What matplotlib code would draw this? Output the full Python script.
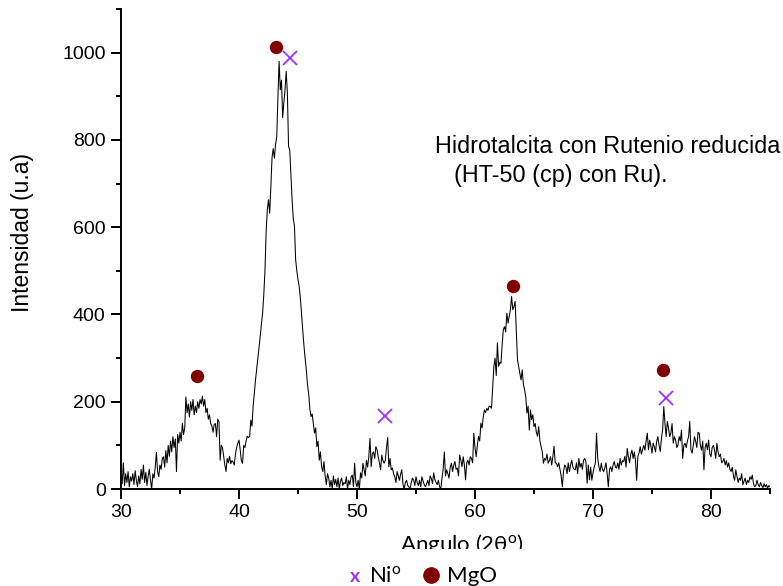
import numpy as np
import matplotlib
matplotlib.use("Agg")
import matplotlib.pyplot as plt
from matplotlib.ticker import MultipleLocator
from matplotlib.patches import Rectangle

plt.rcParams["mathtext.fontset"] = "custom"
plt.rcParams["mathtext.rm"] = "Lato"
plt.rcParams["mathtext.it"] = "Lato:italic"
plt.rcParams["mathtext.bf"] = "Lato:bold"

# XRD pattern, 2-theta from 30 to 85 deg in 0.1 deg steps
two_theta_start = 30.0
two_theta_stop = 85.0
intensity = [
    30, 12, 60, 8, 35, 15, 40, 5, 28, 18,
    35, 10, 42, 20, 5, 30, 12, 45, 22, 55,
    15, 38, 8, 30, 45, 20, 0, 35, 25, 50,
    84, 40, 28, 55, 45, 70, 74, 50, 88, 60,
    100, 75, 110, 85, 120, 95, 115, 40, 125, 105,
    130, 110, 150, 125, 140, 211, 175, 195, 165, 200,
    180, 205, 170, 190, 175, 200, 185, 205, 195, 213,
    190, 205, 175, 185, 160, 170, 150, 145, 130, 148,
    150, 120, 160, 155, 66, 100, 95, 75, 55, 40,
    70, 60, 75, 58, 65, 62, 55, 80, 95, 105,
    112, 90, 65, 59, 100, 95, 110, 121, 118, 120,
    158, 144, 190, 220, 250, 275, 300, 326, 350, 378,
    403, 445, 500, 590, 640, 663, 632, 693, 760, 780,
    758, 790, 808, 900, 980, 915, 937, 851, 885, 915,
    957, 907, 785, 777, 720, 663, 620, 602, 525, 500,
    480, 464, 438, 400, 365, 330, 300, 275, 240, 220,
    185, 166, 172, 150, 128, 140, 97, 110, 66, 85,
    51, 40, 63, 30, 10, 35, 25, 5, 20, 0,
    30, 10, 22, 5, 25, 0, 18, 25, 8, 15,
    12, 28, 0, 20, 10, 28, 32, 5, 59, 15,
    5, 20, 0, 37, 25, 59, 45, 30, 66, 50,
    74, 116, 51, 81, 85, 70, 97, 90, 74, 60,
    44, 78, 65, 59, 66, 95, 118, 51, 70, 44,
    48, 35, 28, 15, 40, 30, 20, 35, 44, 10,
    0, 15, 20, 8, 5, 0, 15, 25, 20, 8,
    28, 15, 8, 20, 5, 28, 18, 10, 5, 12,
    20, 8, 30, 24, 12, 37, 22, 15, 10, 20,
    5, 0, 25, 45, 85, 30, 44, 35, 25, 50,
    59, 40, 55, 63, 45, 48, 30, 78, 66, 51,
    74, 55, 21, 60, 66, 55, 74, 70, 60, 128,
    95, 74, 100, 121, 110, 151, 140, 165, 181, 175,
    185, 180, 190, 189, 185, 235, 281, 300, 260, 335,
    281, 290, 288, 330, 365, 372, 360, 403, 380, 396,
    410, 441, 411, 418, 430, 365, 296, 281, 265, 250,
    273, 240, 227, 212, 174, 190, 135, 181, 159, 170,
    143, 150, 130, 121, 143, 110, 98, 85, 59, 70,
    66, 80, 59, 65, 74, 55, 74, 98, 60, 59,
    51, 60, 45, 30, 5, 40, 55, 51, 35, 60,
    40, 55, 66, 50, 45, 44, 60, 35, 70, 50,
    59, 45, 66, 70, 63, 13, 55, 21, 50, 20,
    37, 50, 60, 128, 70, 51, 40, 59, 45, 40,
    48, 60, 35, 5, 45, 51, 40, 55, 63, 50,
    48, 60, 45, 70, 55, 65, 63, 75, 50, 93,
    74, 60, 80, 89, 70, 85, 65, 20, 75, 82,
    97, 80, 90, 100, 89, 110, 128, 90, 112, 100,
    82, 105, 97, 85, 110, 120, 100, 86, 115, 136,
    189, 150, 120, 155, 140, 120, 128, 150, 105, 120,
    112, 95, 101, 120, 110, 135, 70, 100, 105, 95,
    110, 120, 155, 90, 82, 100, 120, 109, 95, 130,
    128, 100, 89, 110, 44, 95, 105, 90, 112, 80,
    74, 95, 100, 89, 70, 105, 85, 74, 80, 60,
    63, 70, 55, 65, 50, 60, 45, 40, 50, 30,
    20, 44, 30, 15, 25, 20, 35, 10, 18, 25,
    10, 20, 15, 28, 22, 32, 12, 5, 8, 20,
    10, 5, 15, 8, 3, 12, 5, 10, 2, 8,
    5,
]

# Phase identification markers
mgo_angles = [36.4, 43.15, 63.25, 75.9]
mgo_heights = [259, 1012, 465, 272]
ni_angles = [44.35, 52.35, 76.15]
ni_heights = [987, 167, 208]

MGO_COLOR = "#800000"
NI_COLOR = "#9B30FF"

W, H = 783, 586
fig = plt.figure(figsize=(W / 100, H / 100), dpi=100)
ax = fig.add_axes([121 / W, (H - 489) / H, 649 / W, 480 / H])

angles = np.linspace(two_theta_start, two_theta_stop, len(intensity))
ax.plot(angles, intensity, color="black", lw=0.75, zorder=2)

ax.plot(mgo_angles, mgo_heights, "o", color=MGO_COLOR, ms=8.6, mec=MGO_COLOR,
        ls="none", zorder=3, clip_on=False)
ax.plot(ni_angles, ni_heights, "x", color=NI_COLOR, ms=9.5, mew=1.3,
        ls="none", zorder=3, clip_on=False)

ax.set_xlim(30, 85)
ax.set_ylim(0, 1100)
ax.xaxis.set_major_locator(MultipleLocator(10))
ax.xaxis.set_minor_locator(MultipleLocator(5))
ax.yaxis.set_major_locator(MultipleLocator(200))
ax.yaxis.set_minor_locator(MultipleLocator(100))

for side in ("top", "right"):
    ax.spines[side].set_visible(False)
for side in ("left", "bottom"):
    ax.spines[side].set_linewidth(1.4)

ax.tick_params(which="major", direction="out", length=7, width=1.4,
               labelsize=14, pad=4)
ax.tick_params(which="minor", direction="out", length=3.8, width=1.4)
for lbl in ax.get_xticklabels() + ax.get_yticklabels():
    lbl.set_fontfamily("Liberation Sans")

txt_font = "Liberation Sans"
fig.text(22.5 / W, 1 - 232 / H, "Intensidad (u.a)", rotation=90,
         ha="center", va="center", fontsize=16.5, family=txt_font)

fig.text(435 / W, 1 - 152.7 / H, "Hidrotalcita con Rutenio reducida",
         ha="left", va="baseline", fontsize=16.8, family=txt_font)
fig.text(454 / W, 1 - 181.7 / H, "(HT-50 (cp) con Ru).",
         ha="left", va="baseline", fontsize=16.8, family=txt_font)

# x-axis title, partially hidden behind the legend strip below it
fig.text(400 / W, 1 - 551 / H, r"Angulo (2θ$^{\mathrm{o}}$)",
         ha="left", va="baseline", fontsize=16, family="Lato", zorder=1)
fig.patches.append(Rectangle((330 / W, 0), 220 / W, (H - 549) / H,
                             transform=fig.transFigure, facecolor="white",
                             edgecolor="none", zorder=5))

# legend strip
fig.text(355 / W, 1 - 582 / H, "x", ha="center", va="baseline",
         fontsize=14, fontweight="bold", color=NI_COLOR, family="Lato", zorder=6)
fig.text(369 / W, 1 - 582 / H, r"Ni$^{\mathrm{o}}$", ha="left", va="baseline",
         fontsize=16, family="Lato", zorder=6)
fig.lines.append(plt.Line2D([431 / W], [1 - 575 / H], marker="o", ms=11,
                            color=MGO_COLOR, transform=fig.transFigure, zorder=6))
fig.text(447 / W, 1 - 582 / H, "MgO", ha="left", va="baseline",
         fontsize=16, family="Lato", zorder=6)

fig.savefig("out.png", dpi=100)
